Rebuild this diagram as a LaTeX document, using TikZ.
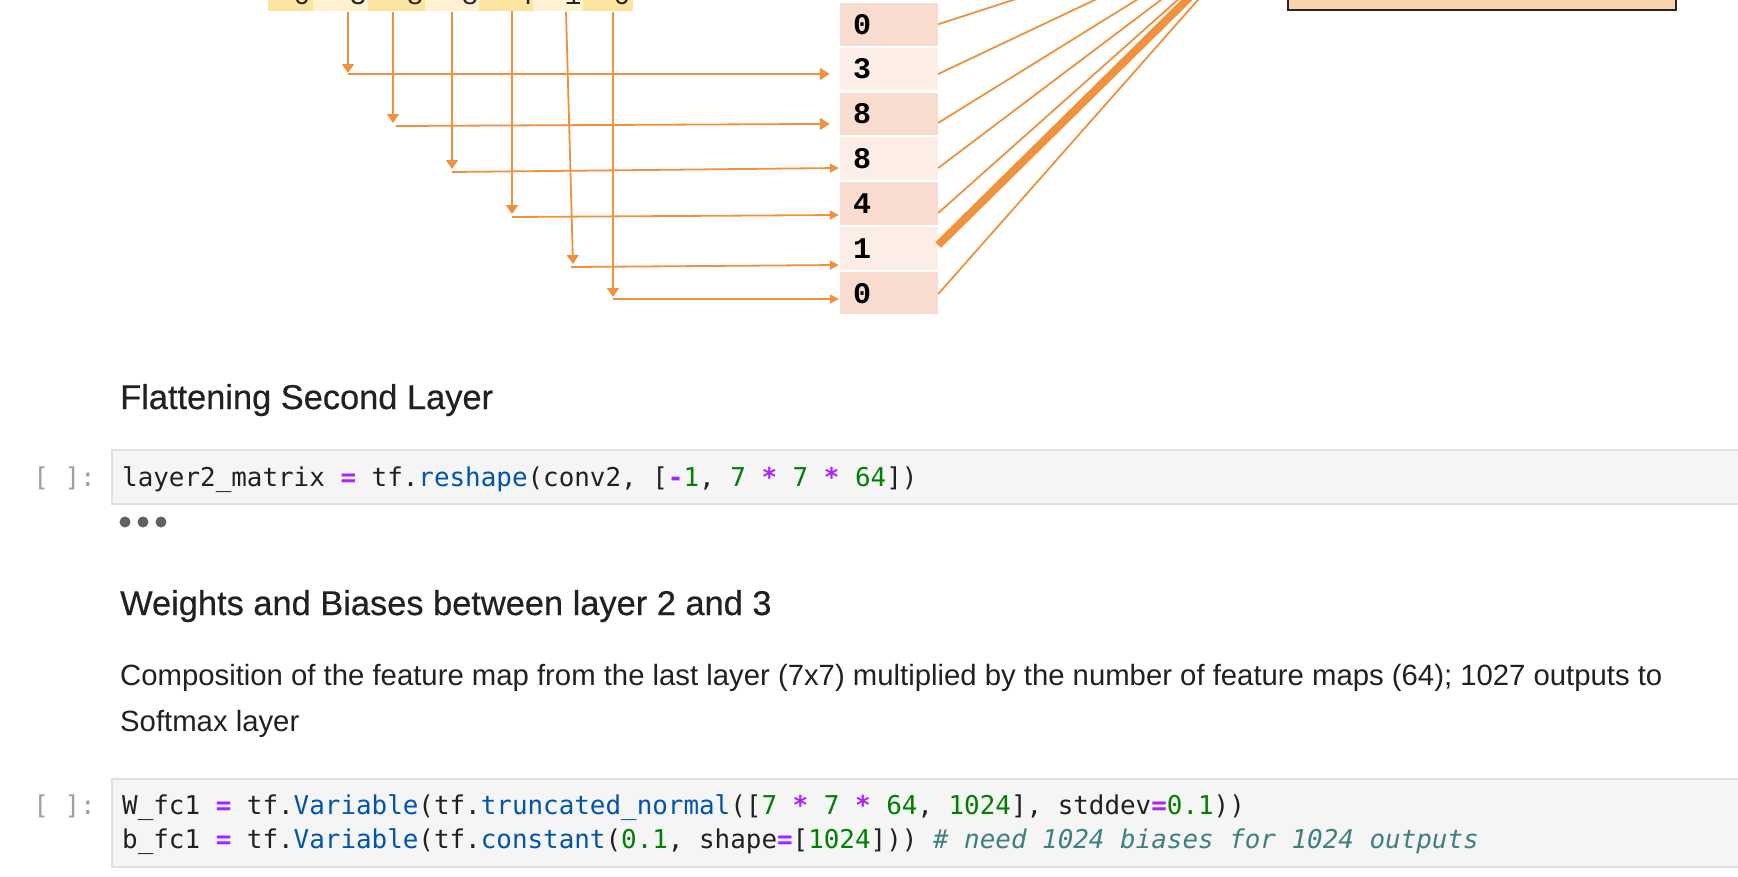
\documentclass[tikz,border=0pt]{standalone}
\usepackage{fontspec}
\setmainfont{Liberation Sans}
\setmonofont{DejaVu Sans Mono}
\newfontfamily\digitfont{Liberation Mono}
\newfontfamily\headfont[FakeBold=0.5]{Liberation Sans}
\usetikzlibrary{arrows.meta,calc}

\definecolor{orng}{HTML}{F0913D}
\definecolor{ydark}{HTML}{FBE5A1}
\definecolor{ylight}{HTML}{FEF2D2}
\definecolor{sdark}{HTML}{F8DCCF}
\definecolor{slight}{HTML}{FCEEE7}
\definecolor{boxfill}{HTML}{F8D3AE}
\definecolor{txt}{HTML}{212121}
\definecolor{codebg}{HTML}{F5F5F5}
\definecolor{codeborder}{HTML}{E0E0E0}
\definecolor{promptc}{HTML}{A0A0A0}
\definecolor{dotc}{HTML}{616161}
\definecolor{opc}{HTML}{AA22FF}
\definecolor{fnc}{HTML}{0055AA}
\definecolor{numc}{HTML}{008000}
\definecolor{cmtc}{HTML}{408080}

\newcommand\cop[1]{{\bfseries\color{opc}#1}}
\newcommand\cfn[1]{{\color{fnc}#1}}
\newcommand\cnum[1]{{\color{numc}#1}}
\newcommand\ccmt[1]{{\itshape\color{cmtc}#1}}

\begin{document}
\begin{tikzpicture}[x=1pt,y=-1pt,
  tcell/.style={draw=none, inner sep=0pt, minimum height=60pt, anchor=south west},
  tdigit/.style={anchor=base, inner sep=0pt, text=black!85, font=\digitfont\fontsize{28}{28}\selectfont},
  ccell/.style={draw=none, minimum width=98pt, minimum height=42.5pt, text width=72pt,
    align=left, inner xsep=13pt, inner ysep=0pt, text=black,
    font=\digitfont\bfseries\fontsize{30}{30}\selectfont},
  varrow/.style={draw=orng, line width=1.8pt, -{Triangle[width=12pt,length=9pt]}},
  harrowA/.style={draw=orng, line width=1.8pt, -{Triangle[width=12pt,length=10pt]}},
  harrowB/.style={draw=orng, line width=1.8pt, -{Triangle[width=9pt,length=9pt]}},
  fanline/.style={draw=orng, line width=1.8pt},
  thickfan/.style={draw=orng, line width=8pt},
  heading/.style={anchor=base west, inner sep=0pt, text=txt, font=\headfont\fontsize{34.4}{41}\selectfont},
  bodytext/.style={anchor=base west, inner sep=0pt, text=txt, font=\fontsize{29.3}{46}\selectfont},
  codetxt/.style={anchor=base west, inner sep=0pt, text=txt, font=\ttfamily\fontsize{25.9}{34}\selectfont},
  promptst/.style={anchor=base east, inner sep=0pt, text=promptc, font=\ttfamily\fontsize{25.9}{34}\selectfont},
  codebox/.style={draw=codeborder, line width=2pt, fill=codebg, anchor=north west, inner sep=0pt, minimum width=1660pt}
]
\useasboundingbox (0,0) rectangle (1738,876);
\fill[white] (0,0) rectangle (1738,876);

% ---------- top row (partly visible) ----------
\node[tcell, fill=ydark,  minimum width=45pt] (t1) at (268,10.7) {};
\node[tcell, fill=ylight, minimum width=55pt] (t2) at (313,10.7) {};
\node[tcell, fill=ydark,  minimum width=57pt] (t3) at (368,10.7) {};
\node[tcell, fill=ylight, minimum width=54pt] (t4) at (425,10.7) {};
\node[tcell, fill=ydark,  minimum width=54pt] (t5) at (479,10.7) {};
\node[tcell, fill=ylight, minimum width=50pt] (t6) at (533,10.7) {};
\node[tcell, fill=ydark,  minimum width=50pt] (t7) at (583,10.7) {};
\node[tdigit] (d1) at (302,4) {0};
\node[tdigit] (d2) at (358,4) {3};
\node[tdigit] (d3) at (415,4) {8};
\node[tdigit] (d4) at (470,4) {8};
\node[tdigit] (d5) at (525,4) {4};
\node[tdigit] (d6) at (573,4) {1};
\node[tdigit] (d7) at (622,4) {0};

% ---------- flattened column ----------
\node[ccell, fill=sdark]  (c1) at (889,24.25) {0};
\node[ccell, fill=slight] (c2) at (889,69.1) {3};
\node[ccell, fill=sdark]  (c3) at (889,113.9) {8};
\node[ccell, fill=slight] (c4) at (889,158.7) {8};
\node[ccell, fill=sdark]  (c5) at (889,203.6) {4};
\node[ccell, fill=slight] (c6) at (889,248.4) {1};
\node[ccell, fill=sdark]  (c7) at (889,293.2) {0};

% ---------- corner points of the arrows ----------
\coordinate (v1) at (348,73);  \coordinate (h1) at (348,74);
\coordinate (v2) at (393,123); \coordinate (h2) at (396,126);
\coordinate (v3) at (452,169); \coordinate (h3) at (452,172);
\coordinate (v4) at (512,214); \coordinate (h4) at (512,217);
\coordinate (v5) at (573,264); \coordinate (h5) at (571,267);
\coordinate (v6) at (613,297); \coordinate (h6) at (613,299);

\draw[varrow, shorten <=1.3pt] (v1 |- t2.south) -- (v1);
\draw[varrow, shorten <=1.3pt] (v2 |- t3.south) -- (v2);
\draw[varrow, shorten <=1.3pt] (v3 |- t4.south) -- (v3);
\draw[varrow, shorten <=0.3pt] (v4 |- t5.south) -- (v4);
\draw[varrow, shorten <=1.3pt] ([xshift=-7pt]v5 |- t6.south) -- (v5);
\draw[varrow, shorten <=1.3pt] (v6 |- t7.south) -- (v6);

\draw[harrowA] (h1) -- ([xshift=-10pt,yshift=-4.9pt]c2.west);
\draw[harrowA] (h2) -- ([xshift=-10pt,yshift=-10pt]c3.west);
\draw[harrowB] (h3) -- ([xshift=-1pt,yshift=-9.3pt]c4.west);
\draw[harrowB] (h4) -- ([xshift=-1pt,yshift=-11.4pt]c5.west);
\draw[harrowB] (h5) -- ([xshift=-1pt,yshift=-16.6pt]c6.west);
\draw[harrowB] (h6) -- ([xshift=-1pt,yshift=-5.8pt]c7.west);

% ---------- fan to the next layer ----------
\coordinate (hub) at (1272,-84);
\draw[fanline] (c1.east) -- (hub);
\draw[fanline] ([yshift=-4.9pt]c2.east) -- (hub);
\draw[fanline] ([yshift=-9pt]c3.east) -- (hub);
\draw[fanline] ([yshift=-9.3pt]c4.east) -- (hub);
\draw[fanline] ([yshift=-9.4pt]c5.east) -- (hub);
\draw[thickfan] ([yshift=3.4pt]c6.east) -- (hub);
\draw[fanline] ([yshift=-0.8pt]c7.east) -- (hub);

\node[draw=black!85, line width=2pt, fill=boxfill, minimum width=388pt, minimum height=120pt,
      anchor=south, inner sep=0pt] (box) at (1482,11) {};

% ---------- notebook text ----------
\node[heading] (h1t) at (120,409) {Flattening Second Layer};

\node[codebox, minimum height=54pt] (cb1) at (111,449) {};
\node[promptst] (p1) at (96,486) {[ ]:};
\node[codetxt] (code1) at (122,486) {layer2\_matrix \cop{=} tf.\cfn{reshape}(conv2, [\cop{-}\cnum{1}, \cnum{7} \cop{*} \cnum{7} \cop{*} \cnum{64}])};

\fill[dotc] (125,522) circle[radius=5.5pt];
\fill[dotc] (143,522) circle[radius=5.5pt];
\fill[dotc] (161,522) circle[radius=5.5pt];

\node[heading] (h2t) at (120,615) {Weights and Biases between layer 2 and 3};
\node[bodytext] (para1) at (120,685) {Composition of the feature map from the last layer (7x7) multiplied by the number of feature maps (64); 1027 outputs to};
\node[bodytext] (para2) at (120,731) {Softmax layer};

\node[codebox, minimum height=88pt] (cb2) at (111,778) {};
\node[promptst] (p2) at (96,814.5) {[ ]:};
\node[codetxt] (code2a) at (122,814.5) {W\_fc1 \cop{=} tf.\cfn{Variable}(tf.\cfn{truncated\_normal}([\cnum{7} \cop{*} \cnum{7} \cop{*} \cnum{64}, \cnum{1024}], stddev\cop{=}\cnum{0.1}))};
\node[codetxt] (code2b) at (122,848.5) {b\_fc1 \cop{=} tf.\cfn{Variable}(tf.\cfn{constant}(\cnum{0.1}, shape\cop{=}[\cnum{1024}])) \ccmt{\# need 1024 biases for 1024 outputs}};
\end{tikzpicture}
\end{document}
